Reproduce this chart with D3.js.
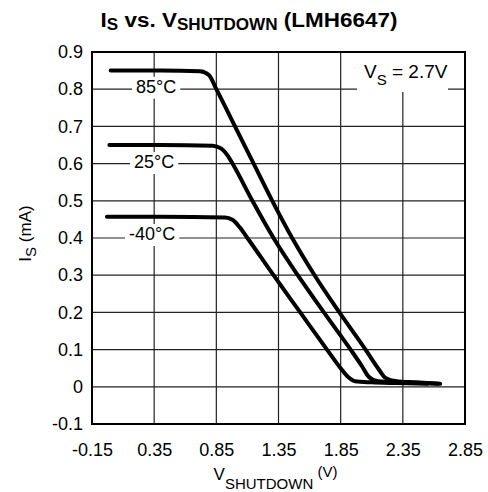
<!DOCTYPE html>
<html><head><meta charset="utf-8">
<script src="https://cdn.jsdelivr.net/npm/d3@7"></script>
<style>
html,body{margin:0;padding:0;background:#fff;}
svg{display:block;font-family:"Liberation Sans",Arial,Helvetica,sans-serif;}
</style></head>
<body><svg id="c" width="488" height="492"></svg>
<script>
// ---- data ----
const xTicks = [-0.15, 0.35, 0.85, 1.35, 1.85, 2.35, 2.85];
const yTicks = [-0.1, 0, 0.1, 0.2, 0.3, 0.4, 0.5, 0.6, 0.7, 0.8, 0.9];
const xTickLabels = ["-0.15","0.35","0.85","1.35","1.85","2.35","2.85"];
const yTickLabels = ["-0.1","0","0.1","0.2","0.3","0.4","0.5","0.6","0.7","0.8","0.9"];

const v85 = [0.00, 0.40, 0.72, 0.79, 0.85, 1.00, 1.15, 1.30, 1.46, 1.64, 1.84, 2.05, 2.15, 2.21, 2.30, 2.45, 2.65];
const i85 = [0.850,0.850,0.848,0.838,0.800,0.700,0.600,0.500,0.400,0.300,0.200,0.100,0.050,0.024,0.015,0.012,0.008];

const v25 = [-0.01, 0.40, 0.82, 0.89, 0.94, 0.98, 1.14, 1.31, 1.505, 1.715, 1.93, 2.02, 2.075, 2.15, 2.35, 2.50, 2.63];
const i25 = [0.650,0.650,0.648,0.640,0.622,0.600,0.500,0.400,0.300,0.200,0.100,0.056,0.027,0.015,0.012,0.010,0.008];

const vm40 = [-0.03, 0.40, 0.92, 0.98, 1.035, 1.10, 1.31, 1.525, 1.74, 1.85, 1.915, 1.965, 2.10, 2.30, 2.55];
const im40 = [0.457,0.457,0.455,0.449,0.430,0.400,0.300,0.200,0.100,0.050,0.025,0.015,0.012,0.010,0.008];

const seriesNames = ["85°C", "25°C", "-40°C"];
const labelX = [0.35, 0.35, 0.35];
const labelY = [0.8, 0.6, 0.4];

// ---- layout ----
const L = 92, R = 465, T = 52, B = 424;
const svg = d3.select("#c");
const x = d3.scaleLinear().domain([-0.15, 2.85]).range([L, R]);
const y = d3.scaleLinear().domain([-0.1, 0.9]).range([B, T]);
const FF = '"Liberation Sans",Arial,Helvetica,sans-serif';

// gridlines
const grid = svg.append("g");
grid.selectAll(".vg").data(xTicks.slice(1, -1)).enter().append("line")
  .attr("x1", d => x(d)).attr("x2", d => x(d)).attr("y1", T).attr("y2", B)
  .attr("stroke", "#222").attr("stroke-width", 1.2);
grid.selectAll(".hg").data(yTicks.slice(1, -1)).enter().append("line")
  .attr("x1", L).attr("x2", R).attr("y1", d => y(d)).attr("y2", d => y(d))
  .attr("stroke", "#222").attr("stroke-width", 1.2);

// axes (labels only)
const xAxis = d3.axisBottom(x).tickValues(xTicks).tickFormat((d, i) => xTickLabels[i]).tickSize(0).tickPadding(19);
const gx = svg.append("g").attr("transform", `translate(0,${B})`).call(xAxis);
gx.select(".domain").remove();
gx.selectAll("text").attr("font-size", 18).attr("font-family", FF).attr("fill", "#000");

const yAxis = d3.axisLeft(y).tickValues(yTicks).tickFormat((d, i) => yTickLabels[i]).tickSize(0).tickPadding(9);
const gy = svg.append("g").attr("transform", `translate(${L},0)`).call(yAxis);
gy.select(".domain").remove();
gy.selectAll("text").attr("font-size", 18).attr("font-family", FF).attr("fill", "#000");

// temperature labels with white boxes
const lab = svg.append("g");
seriesNames.forEach((name, k) => {
  const cx = x(labelX[k]) + [2, 0, -2][k], cy = y(labelY[k]);
  const box = lab.append("rect").attr("fill", "#fff");
  const t = lab.append("text").attr("x", cx).attr("y", cy).attr("dy", [3.5, 4.4, 2][k])
    .attr("text-anchor", "middle").attr("font-size", 18).attr("font-family", FF).text(name);
  const bb = t.node().getBBox();
  box.attr("x", bb.x - 4).attr("y", bb.y).attr("width", bb.width + 8).attr("height", bb.height + 2);
});

// VS label box
svg.append("rect").attr("x", 357).attr("y", T + 1).attr("width", 91).attr("height", 39).attr("fill", "#fff");
const vs = svg.append("text").attr("x", 364).attr("y", 78).attr("font-size", 19).attr("font-family", FF);
vs.append("tspan").text("V");
vs.append("tspan").attr("font-size", 15).attr("dy", 7).text("S");
vs.append("tspan").attr("dy", -7).text(" = 2.7V");

// curves
const line = d3.line().x(d => x(d[0])).y(d => y(d[1])).curve(d3.curveMonotoneX);
[[v85, i85], [v25, i25], [vm40, im40]].forEach(([vs_, is_]) => {
  svg.append("path").datum(vs_.map((v, j) => [v, is_[j]]))
    .attr("d", line).attr("fill", "none").attr("stroke", "#000")
    .attr("stroke-width", 4).attr("stroke-linejoin", "round").attr("stroke-linecap", "round");
});

// frame
svg.append("rect").attr("x", L).attr("y", T).attr("width", R - L).attr("height", B - T)
  .attr("fill", "none").attr("stroke", "#000").attr("stroke-width", 2);

// title
const title = svg.append("text").attr("x", 249).attr("y", 27).attr("text-anchor", "middle")
  .attr("font-size", 21).attr("font-weight", "bold").attr("font-family", FF)
  .attr("transform", "translate(249,0) scale(1.07,1) translate(-249,0)");
title.append("tspan").text("I");
title.append("tspan").attr("font-size", 16).attr("dy", 3).text("S");
title.append("tspan").attr("dy", -3).text(" vs. V");
title.append("tspan").attr("font-size", 16).attr("dy", 3).text("SHUTDOWN");
title.append("tspan").attr("dy", -3).text(" (LMH6647)");

// x axis title
const xt = svg.append("text").attr("x", 275.5).attr("y", 480).attr("text-anchor", "middle")
  .attr("font-size", 17).attr("font-family", FF);
xt.append("tspan").text("V");
xt.append("tspan").attr("font-size", 15).attr("dy", 9).text("SHUTDOWN");
xt.append("tspan").attr("font-size", 15).attr("dy", -12).text(" (V)");

// y axis title
const yt = svg.append("text").attr("transform", "translate(31,233.5) rotate(-90)")
  .attr("text-anchor", "middle").attr("font-size", 17).attr("font-family", FF);
yt.append("tspan").text("I");
yt.append("tspan").attr("font-size", 15).attr("dy", 5).text("S");
yt.append("tspan").attr("dy", -5).text(" (mA)");
</script></body></html>
